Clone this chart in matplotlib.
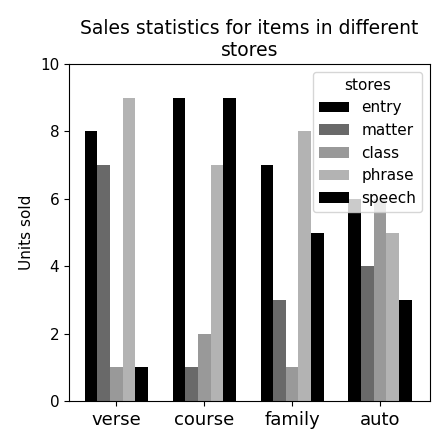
import numpy as np
import matplotlib
matplotlib.use('Agg')
import matplotlib.pyplot as plt

# data
items = ['verse', 'course', 'family', 'auto']
stores = ['entry', 'matter', 'class', 'phrase', 'speech']
entry = [8, 9, 7, 6]
matter = [7, 1, 3, 4]
klass = [1, 2, 1, 6]
phrase = [9, 7, 8, 5]
speech = [1, 9, 5, 3]
values = [entry, matter, klass, phrase, speech]
colors = ['#000000', '#696969', '#999999', '#b3b3b3', '#000000']

fig = plt.figure(figsize=(4.48, 4.48), dpi=100)
ax = fig.add_axes([0.154, 0.105, 0.806, 0.752])

x = np.arange(len(items))
width = 0.144
for i, (name, vals) in enumerate(zip(stores, values)):
    ax.bar(x + (i - 2) * width, vals, width=width, color=colors[i], label=name)

ax.set_xticks(x)
ax.set_xticklabels(items, fontsize=13)
ax.tick_params(axis='y', labelsize=11)
ax.set_ylim(0, 10)
ax.set_xlim(-0.54, 3.57)
ax.set_ylabel('Units sold', fontsize=11)
ax.set_title('Sales statistics for items in different\nstores', fontsize=13.5)
ax.legend(title='stores', fontsize=11, title_fontsize=11, loc='upper right')

plt.savefig('out.png')
